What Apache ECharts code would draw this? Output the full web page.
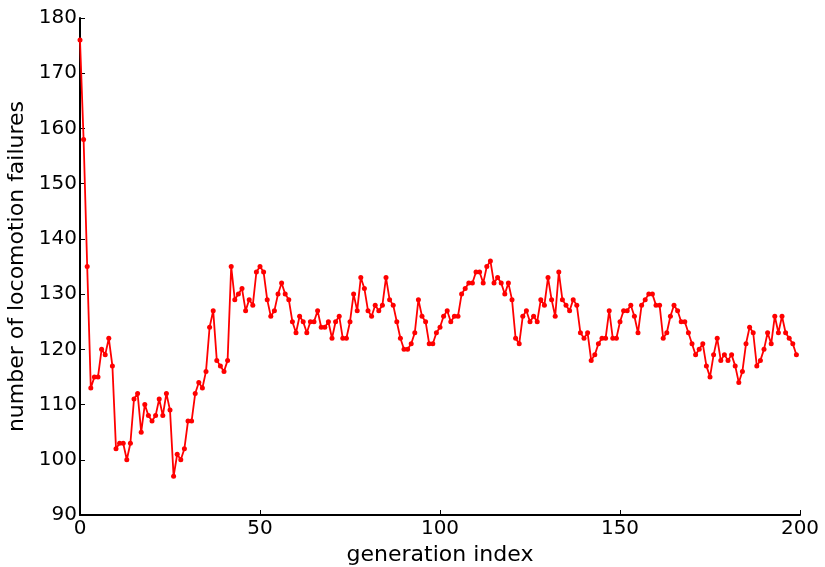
<!DOCTYPE html>
<html>
<head>
<meta charset="utf-8">
<script src="https://cdn.jsdelivr.net/npm/echarts@6/dist/echarts.min.js"></script>
<style>
  html, body { margin: 0; padding: 0; background: #fff; }
  #chart { width: 825px; height: 567px; }
</style>
</head>
<body>
<div id="chart"></div>
<script>
// Locomotion failures per generation (one value per generation, 0..199)
const failures = [
  176, 158, 135, 113, 115, 115, 120, 119, 122, 117,
  102, 103, 103, 100, 103, 111, 112, 105, 110, 108,
  107, 108, 111, 108, 112, 109, 97, 101, 100, 102,
  107, 107, 112, 114, 113, 116, 124, 127, 118, 117,
  116, 118, 135, 129, 130, 131, 127, 129, 128, 134,
  135, 134, 129, 126, 127, 130, 132, 130, 129, 125,
  123, 126, 125, 123, 125, 125, 127, 124, 124, 125,
  122, 125, 126, 122, 122, 125, 130, 127, 133, 131,
  127, 126, 128, 127, 128, 133, 129, 128, 125, 122,
  120, 120, 121, 123, 129, 126, 125, 121, 121, 123,
  124, 126, 127, 125, 126, 126, 130, 131, 132, 132,
  134, 134, 132, 135, 136, 132, 133, 132, 130, 132,
  129, 122, 121, 126, 127, 125, 126, 125, 129, 128,
  133, 129, 126, 134, 129, 128, 127, 129, 128, 123,
  122, 123, 118, 119, 121, 122, 122, 127, 122, 122,
  125, 127, 127, 128, 126, 123, 128, 129, 130, 130,
  128, 128, 122, 123, 126, 128, 127, 125, 125, 123,
  121, 119, 120, 121, 117, 115, 119, 122, 118, 119,
  118, 119, 117, 114, 116, 121, 124, 123, 117, 118,
  120, 123, 121, 126, 123, 126, 123, 122, 121, 119
];

// Axis ranges and tick spacing
const xRange = [0, 200];
const xStep = 50;
const yRange = [90, 180];
const yStep = 10;

const xTitle = 'generation index';
const yTitle = 'number of locomotion failures';

const points = failures.map((v, i) => [i, v]);

const font = 'DejaVu Sans';
const axisColor = '#000';

const chart = echarts.init(document.getElementById('chart'), null, { renderer: 'canvas' });

chart.setOption({
  animation: false,
  backgroundColor: '#fff',
  grid: { left: 80, right: 25, top: 18, bottom: 52, containLabel: false, outerBoundsMode: 'none' },
  xAxis: {
    type: 'value',
    min: xRange[0],
    max: xRange[1],
    interval: xStep,
    name: xTitle,
    nameLocation: 'middle',
    nameGap: 29,
    nameTextStyle: { fontFamily: font, fontSize: 22, color: '#000' },
    axisLine: { show: true, onZero: false, lineStyle: { color: axisColor, width: 2 } },
    axisTick: { show: true, inside: true, length: 5, lineStyle: { color: axisColor, width: 1 } },
    axisLabel: { fontFamily: font, fontSize: 20, color: '#000', margin: 4, showMinLabel: true, showMaxLabel: true },
    splitLine: { show: false }
  },
  yAxis: {
    type: 'value',
    min: yRange[0],
    max: yRange[1],
    interval: yStep,
    name: yTitle,
    nameLocation: 'middle',
    nameGap: 47,
    nameTextStyle: { fontFamily: font, fontSize: 22, color: '#000' },
    axisLine: { show: true, onZero: false, lineStyle: { color: axisColor, width: 2 } },
    axisTick: { show: true, inside: true, length: 5, lineStyle: { color: axisColor, width: 1 } },
    axisLabel: { fontFamily: font, fontSize: 20, color: '#000', margin: 3, showMinLabel: true, showMaxLabel: true },
    splitLine: { show: false }
  },
  series: [{
    type: 'line',
    data: points,
    symbol: 'circle',
    symbolSize: 5,
    showSymbol: true,
    showAllSymbol: true,
    lineStyle: { color: '#ff0000', width: 1.8 },
    itemStyle: { color: '#ff0000', borderWidth: 0 },
    emphasis: { disabled: true },
    clip: false
  }]
});
</script>
</body>
</html>
